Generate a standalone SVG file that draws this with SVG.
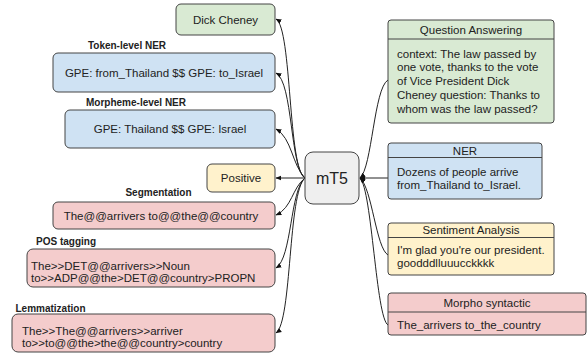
<svg xmlns="http://www.w3.org/2000/svg" width="587" height="356" viewBox="0 0 587 356">
<defs>
<marker id="arr" viewBox="0 0 10 10" refX="9" refY="5" markerWidth="6" markerHeight="6" orient="auto" markerUnits="userSpaceOnUse">
<path d="M0,1 L10,5 L0,9 Z" fill="#111"/>
</marker>
<style>
text{font-family:"Liberation Sans",Arial,sans-serif;fill:#222;}
.t{font-size:11.5px;}
.c{text-anchor:middle;}
.lab{font-size:10px;font-weight:bold;text-anchor:middle;}
.box{stroke:#444;stroke-width:1;}
.g{fill:#d9ead3;}
.b{fill:#cfe2f3;}
.y{fill:#fff2cc;}
.r{fill:#f4cccc;}
.e{fill:none;stroke:#222;stroke-width:1;marker-end:url(#arr);}
</style>
</defs>
<rect width="587" height="356" fill="#fff"/>
<g id="connectors">
<path class="e" d="M305,178 C288,170 292,28 276,19"/>
<path class="e" d="M305,178 C290,168 293,82 276,73"/>
<path class="e" d="M305,178 C292,165 292,138 276,129"/>
<path class="e" d="M305,178 L276,178"/>
<path class="e" d="M305,178 C292,188 292,208 276,215"/>
<path class="e" d="M305,178 C290,190 292,258 276,268"/>
<path class="e" d="M305,178 C288,192 292,322 276,333"/>
<path class="e" d="M388,80 C374,88 372,168 360,178"/>
<path class="e" d="M388,178 L360,178"/>
<path class="e" d="M388,255 C376,248 372,188 360,178"/>
<path class="e" d="M388,325 C376,318 372,190 360,178"/>
</g>
<g id="mt5">
<rect class="box" x="305" y="152" width="54" height="52" rx="8" fill="#efefef"/>
<text class="c" x="332" y="184" font-size="16">mT5</text>
</g>
<g id="dick-cheney">
<rect class="box g" x="176" y="4" width="99" height="31" rx="5"/>
<text class="t c" x="225.5" y="23.5">Dick Cheney</text>
</g>
<g id="token-ner">
<text class="lab" x="127" y="49">Token-level NER</text>
<rect class="box b" x="53" y="53" width="222" height="39" rx="5"/>
<text class="t c" x="164" y="76.5">GPE: from_Thailand $$ GPE: to_Israel</text>
</g>
<g id="morpheme-ner">
<text class="lab" x="136" y="106">Morpheme-level NER</text>
<rect class="box b" x="65" y="110" width="210" height="38" rx="5"/>
<text class="t c" x="170" y="133">GPE: Thailand $$ GPE: Israel</text>
</g>
<g id="positive">
<rect class="box y" x="207" y="164" width="68" height="28" rx="5"/>
<text class="t c" x="241" y="182">Positive</text>
</g>
<g id="segmentation">
<text class="lab" x="158.5" y="196">Segmentation</text>
<rect class="box r" x="53" y="202" width="222" height="27" rx="5"/>
<text class="t c" x="161" y="219.5">The@@arrivers to@@the@@country</text>
</g>
<g id="pos">
<text class="lab" x="66" y="245">POS tagging</text>
<rect class="box r" x="27" y="249" width="248" height="38" rx="6"/>
<text class="t" x="31" y="270">The&gt;&gt;DET@@arrivers&gt;&gt;Noun</text>
<text class="t" x="31" y="282">to&gt;&gt;ADP@@the&gt;DET@@country&gt;PROPN</text>
</g>
<g id="lemmatization">
<text class="lab" x="50.5" y="312">Lemmatization</text>
<rect class="box r" x="12" y="314" width="263" height="38" rx="6"/>
<text class="t" x="22" y="335">The&gt;&gt;The@@arrivers&gt;&gt;arriver</text>
<text class="t" x="22" y="347">to&gt;&gt;to@@the&gt;the@@country&gt;country</text>
</g>
<g id="qa">
<rect class="box g" x="388" y="20" width="166" height="103" rx="3"/>
<line x1="388" y1="39" x2="554" y2="39" stroke="#444"/>
<text class="t c" x="471" y="34">Question Answering</text>
<text class="t" x="397" y="57.5">context: The law passed by</text>
<text class="t" x="397" y="71.3">one vote, thanks to the vote</text>
<text class="t" x="397" y="85.1">of Vice President Dick</text>
<text class="t" x="397" y="98.9">Cheney question: Thanks to</text>
<text class="t" x="397" y="112.7">whom was the law passed?</text>
</g>
<g id="ner">
<rect class="box b" x="388" y="143" width="154" height="56" rx="3"/>
<line x1="388" y1="157.5" x2="542" y2="157.5" stroke="#444"/>
<text class="t c" x="465" y="155">NER</text>
<text class="t" x="397" y="176">Dozens of people arrive</text>
<text class="t" x="397" y="188.5">from_Thailand to_Israel.</text>
</g>
<g id="sentiment">
<rect class="box y" x="388" y="223" width="166" height="52" rx="3"/>
<line x1="388" y1="237.5" x2="554" y2="237.5" stroke="#444"/>
<text class="t c" x="471" y="234.3">Sentiment Analysis</text>
<text class="t" x="397" y="254">I'm glad you're our president.</text>
<text class="t" x="397" y="266.7">goodddlluuucckkkk</text>
</g>
<g id="morpho">
<rect class="box r" x="388" y="293" width="198" height="42" rx="3"/>
<line x1="388" y1="312" x2="586" y2="312" stroke="#444"/>
<text class="t c" x="487" y="306.7">Morpho syntactic</text>
<text class="t" x="397" y="329">The_arrivers to_the_country</text>
</g>
</svg>
